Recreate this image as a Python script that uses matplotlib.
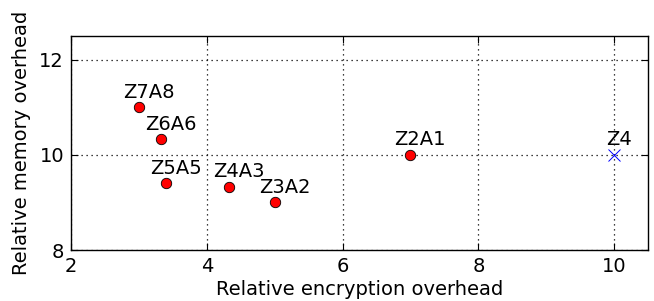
import numpy as np
import matplotlib
matplotlib.use('Agg')
import matplotlib.pyplot as plt

# schemes (red circles) and baseline (blue cross)
labels = ['Z7A8', 'Z6A6', 'Z5A5', 'Z4A3', 'Z3A2', 'Z2A1']
enc_overhead = [3.0, 3.33, 3.4, 4.33, 5.0, 7.0]
mem_overhead = [11.0, 10.33, 9.4, 9.33, 9.0, 10.0]

base_label = 'Z4'
base_enc = [10.0]
base_mem = [10.0]

fs = 14

fig = plt.figure(figsize=(6.54, 3.01), dpi=100)
ax = fig.add_axes([0.1086, 0.1694, 0.8824, 0.7106])

ax.plot(enc_overhead, mem_overhead, 'o', color='red', markeredgecolor='black',
        markeredgewidth=0.6, markersize=7.5, linestyle='none', zorder=3)
ax.plot(base_enc, base_mem, 'x', color='blue', markersize=8, markeredgewidth=0.7,
        linestyle='none', zorder=3)

# labels above each point
for lab, x, y in zip(labels, enc_overhead, mem_overhead):
    ax.annotate(lab, (x, y), xytext=(7, 4), textcoords='offset points',
                ha='center', va='bottom', fontsize=fs)
ax.annotate(base_label, (base_enc[0], base_mem[0]), xytext=(3.5, 4),
            textcoords='offset points', ha='center', va='bottom', fontsize=fs)

ax.set_xlim(2, 10.5)
ax.set_ylim(8, 12.5)
ax.set_xticks([2, 4, 6, 8, 10])
ax.set_yticks([8, 10, 12])
ax.grid(True, linestyle=(0, (1, 3)), color='black', linewidth=0.9)
ax.tick_params(direction='in', top=True, right=True, length=5, labelsize=fs, pad=5)
for s in ax.spines.values():
    s.set_linewidth(1.0)

ax.set_xlabel('Relative encryption overhead', fontsize=fs, labelpad=3)
ax.set_ylabel('Relative memory overhead', fontsize=fs, labelpad=6)

fig.savefig('out.png', dpi=100)
